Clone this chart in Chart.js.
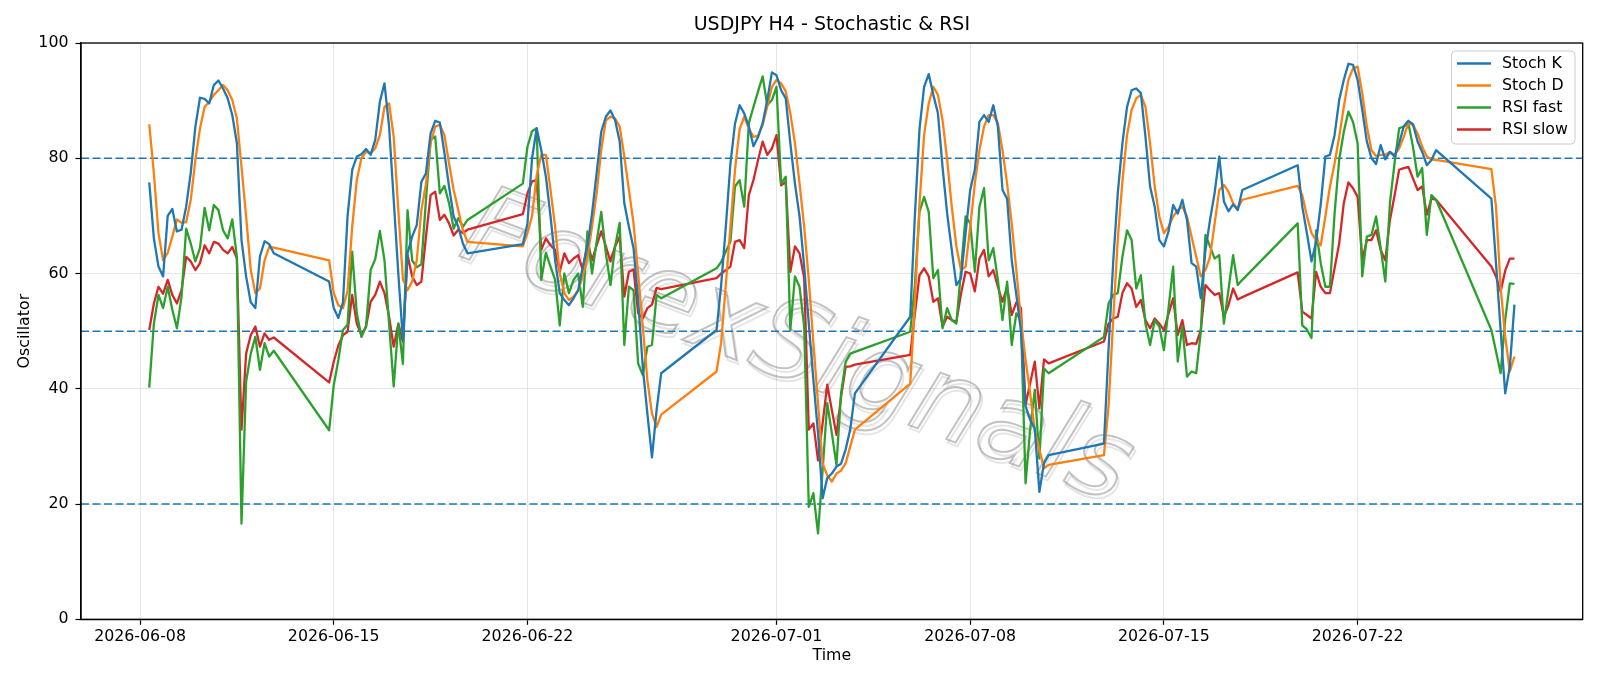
<!DOCTYPE html>
<html>
<head>
  <meta charset="utf-8">
  <title>USDJPY H4 - Stochastic & RSI</title>
  <script src="https://cdn.jsdelivr.net/npm/chart.js"></script>
  <style>
    body { margin: 0; padding: 0; background: #fff; }
    #wrap { width: 1600px; height: 686px; }
  </style>
</head>
<body>
  <div id="wrap"><canvas id="myChart"></canvas></div>

  <script>
    // 1. Data: H4 sessions (first bar + bar count), one row per trading week
    const sessionStart = ['2026-06-08 08:00', '2026-06-14 20:00', '2026-06-21 20:00', '2026-06-28 20:00',
                          '2026-07-05 20:00', '2026-07-12 20:00', '2026-07-19 20:00', '2026-07-26 20:00'];
    const sessionBars = [28, 31, 31, 31, 31, 31, 31, 6];

    const tickDates = ['2026-06-08', '2026-06-15', '2026-06-22', '2026-07-01', '2026-07-08', '2026-07-15', '2026-07-22'];
    const levels = [80, 50, 20];

    const stochK = [
      75.8, 66.1, 61.2, 59.5, 70.0, 71.2, 67.3, 67.6, 71.6, 77.5, 85.5, 90.5, 90.3, 89.5, 92.7, 93.5, 92.1, 90.4, 87.5, 82.6, 65.8, 59.5, 55.0, 54.0, 63.0, 65.6, 65.1, 63.5,
      58.6, 54.0, 52.3, 55.0, 70.0, 78.0, 80.3, 80.7, 81.6, 80.6, 83.2, 89.8, 93.0, 85.5, 72.8, 60.0, 48.5, 63.5, 66.4, 68.4, 75.9, 77.4, 84.3, 86.5, 86.2, 80.9, 75.1, 69.9, 68.1, 65.2, 63.5,
      65.1, 68.7, 80.0, 85.2, 81.4, 76.8, 69.9, 62.3, 56.6, 55.4, 54.5, 55.7, 57.1, 61.2, 64.6, 70.4, 77.4, 84.6, 87.2, 88.3, 86.6, 82.9, 72.2, 68.1, 64.4, 55.4, 43.8, 35.7, 28.1, 36.3, 42.7,
      50.2, 58.0, 68.0, 79.0, 86.0, 89.2, 87.8, 85.5, 82.1, 83.7, 86.1, 90.1, 94.9, 94.4, 91.8, 90.4, 82.6, 75.6, 69.9, 61.2, 51.3, 41.5, 32.3, 21.0, 24.5, 25.3, 26.5, 27.0, 29.5, 33.0, 39.2,
      52.5, 70.0, 85.0, 92.4, 94.6, 91.0, 87.8, 78.5, 70.4, 64.1, 58.0, 59.2, 67.0, 74.5, 78.0, 86.3, 87.5, 86.3, 89.2, 85.5, 74.5, 73.0, 62.3, 56.3, 50.0, 37.0, 34.6, 33.1, 22.1, 27.1, 28.5,
      30.5, 47.0, 62.0, 74.0, 82.6, 88.9, 91.8, 92.1, 91.3, 83.7, 75.1, 71.6, 65.8, 64.7, 67.3, 71.9, 70.4, 72.8, 69.3, 61.8, 61.2, 55.7, 64.0, 69.3, 74.0, 80.3, 72.5, 70.8, 72.0, 71.0, 74.5,
      78.8, 71.6, 67.0, 62.1, 65.5, 72.0, 80.3, 80.6, 84.0, 90.1, 93.6, 96.4, 96.2, 93.6, 88.4, 82.9, 80.0, 79.0, 82.3, 79.8, 81.1, 80.3, 82.6, 85.5, 86.5, 85.9, 82.9, 81.1, 78.8, 79.7, 81.4,
      73.0, 61.8, 50.2, 39.2, 43.8, 54.6
    ];
    const stochD = [
      85.9, 77.4, 67.0, 62.3, 63.6, 66.4, 69.4, 68.8, 68.9, 72.8, 79.7, 85.2, 88.9, 89.8, 91.0, 91.8, 92.7, 91.8, 90.1, 86.9, 78.5, 69.9, 60.6, 56.6, 57.4, 62.3, 64.6, 64.5,
      62.3, 56.6, 54.5, 54.0, 57.0, 68.1, 76.2, 80.0, 81.1, 80.9, 81.7, 84.0, 88.9, 89.5, 83.7, 71.0, 59.0, 57.1, 58.6, 62.3, 71.0, 75.6, 82.6, 85.5, 85.8, 84.0, 79.1, 74.5, 71.0, 67.5, 65.5,
      64.7, 67.0, 70.0, 77.0, 80.6, 80.6, 74.5, 68.1, 60.0, 56.6, 55.4, 56.0, 57.1, 59.5, 62.9, 68.1, 73.9, 81.4, 86.6, 87.2, 86.9, 85.5, 80.3, 74.5, 68.7, 60.0, 50.8, 41.5, 35.7, 33.4, 35.5,
      43.0, 48.0, 58.0, 68.0, 78.0, 85.0, 87.2, 85.2, 83.7, 83.9, 85.8, 89.0, 92.4, 93.6, 93.0, 91.6, 87.8, 82.6, 75.6, 68.1, 58.9, 47.9, 37.5, 27.0, 25.0, 23.9, 25.3, 25.8, 27.1, 30.0, 32.9,
      40.9, 55.0, 72.0, 84.0, 89.5, 92.4, 91.0, 86.6, 79.7, 71.6, 64.7, 60.6, 61.2, 68.1, 75.6, 81.4, 85.5, 87.5, 87.5, 86.1, 81.4, 75.6, 68.7, 60.6, 51.9, 45.0, 39.2, 32.8, 29.4, 26.2, 26.8,
      28.5, 37.0, 52.0, 66.0, 76.0, 84.0, 88.4, 90.4, 91.0, 88.9, 82.6, 75.1, 69.9, 67.0, 68.1, 69.9, 71.0, 71.6, 69.9, 66.4, 62.9, 59.5, 60.6, 62.9, 68.7, 74.5, 75.4, 74.2, 72.2, 71.3, 72.8,
      75.2, 73.6, 70.0, 67.0, 65.8, 64.9, 69.9, 75.1, 79.1, 83.7, 88.9, 93.6, 95.6, 95.9, 91.3, 85.5, 81.4, 80.4, 80.6, 80.6, 81.1, 80.6, 81.7, 83.7, 86.1, 85.8, 84.3, 82.0, 80.3, 79.8, 79.7,
      78.1, 71.6, 57.7, 49.0, 43.0, 45.6
    ];
    const rsiFast = [
      40.2, 51.3, 56.3, 54.0, 57.7, 53.7, 50.5, 56.0, 67.8, 65.2, 62.1, 64.4, 71.4, 67.5, 71.9, 71.0, 67.5, 66.1, 69.4, 62.9, 16.6, 41.2, 46.1, 49.0, 43.3, 47.9, 45.6, 46.6,
      32.8, 40.6, 45.0, 50.2, 51.1, 63.8, 53.1, 49.0, 50.8, 60.6, 62.5, 67.4, 62.3, 51.3, 40.4, 51.3, 44.3, 71.0, 62.3, 61.1, 61.6, 72.8, 83.2, 83.8, 73.9, 75.2, 72.2, 67.8, 69.6, 68.1, 69.3,
      75.6, 82.0, 84.7, 85.2, 58.9, 63.6, 61.2, 58.9, 51.0, 60.0, 56.6, 58.9, 60.0, 54.2, 67.3, 60.0, 65.5, 70.7, 63.5, 58.0, 64.7, 68.8, 47.6, 57.7, 57.1, 44.4, 42.4, 47.3, 47.6, 56.3, 55.7,
      60.9, 62.0, 63.8, 65.5, 75.1, 76.2, 71.6, 86.1, 88.9, 91.6, 94.2, 89.2, 90.1, 92.4, 75.6, 76.8, 50.2, 59.5, 57.7, 50.8, 19.5, 21.9, 14.9, 25.9, 37.5, 32.3, 26.8, 39.2, 44.7, 46.1, 46.4,
      49.9, 58.0, 70.7, 73.3, 70.7, 59.2, 60.6, 50.5, 54.0, 51.9, 51.3, 60.5, 69.9, 68.7, 60.3, 71.6, 74.8, 62.3, 64.4, 58.9, 51.9, 58.6, 47.6, 53.1, 51.9, 23.6, 33.0, 39.8, 27.9, 43.5, 42.7,
      49.0, 54.8, 56.3, 56.6, 62.9, 67.5, 65.8, 57.4, 59.7, 51.3, 47.6, 51.9, 50.8, 46.7, 54.0, 61.2, 44.7, 50.8, 42.1, 43.0, 42.7, 49.9, 66.7, 64.7, 62.6, 63.2, 51.3, 57.2, 63.2, 58.0, 58.9,
      68.7, 51.0, 50.3, 48.8, 67.5, 61.8, 57.7, 57.7, 70.4, 79.7, 84.6, 88.1, 86.3, 82.6, 59.5, 66.4, 66.7, 69.9, 64.4, 58.6, 72.2, 79.1, 85.2, 85.5, 86.1, 82.0, 76.8, 78.3, 66.7, 73.6, 72.8,
      50.2, 46.5, 42.7, 52.0, 58.3, 58.2
    ];
    const rsiSlow = [
      50.2, 54.8, 57.7, 56.5, 58.9, 56.3, 54.8, 57.1, 62.9, 62.1, 60.6, 61.8, 64.9, 63.5, 65.5, 65.2, 64.1, 63.5, 64.6, 62.6, 32.9, 46.1, 49.3, 50.8, 47.3, 49.6, 48.5, 48.9,
      41.1, 44.7, 47.5, 49.3, 49.9, 56.3, 51.3, 49.3, 50.8, 55.1, 56.3, 58.6, 56.6, 52.5, 47.3, 51.3, 48.2, 63.2, 59.5, 58.0, 58.6, 66.4, 73.6, 74.2, 69.3, 70.2, 68.7, 66.6, 67.6, 67.0, 67.6,
      70.3, 73.9, 76.0, 76.2, 64.1, 66.1, 64.9, 64.1, 60.3, 63.5, 61.8, 62.6, 63.2, 60.6, 65.5, 62.3, 64.9, 67.3, 64.7, 62.1, 64.7, 66.4, 56.0, 60.3, 60.7, 53.1, 52.2, 54.0, 54.6, 57.5, 57.3,
      59.2, 60.0, 60.6, 61.2, 65.5, 65.8, 64.4, 73.6, 76.2, 79.7, 82.9, 80.6, 81.7, 84.0, 75.3, 75.9, 60.3, 64.7, 63.5, 59.2, 32.9, 34.0, 27.6, 34.0, 40.7, 36.3, 32.0, 38.6, 43.8, 43.9, 44.2,
      45.9, 53.0, 59.7, 60.9, 59.5, 55.1, 55.7, 50.8, 52.5, 51.9, 51.6, 56.5, 60.3, 60.0, 56.9, 62.6, 64.1, 59.5, 60.6, 57.7, 55.1, 57.7, 52.8, 55.0, 54.0, 37.2, 41.0, 44.7, 36.6, 45.1, 44.4,
      48.2, 51.3, 52.2, 52.5, 56.6, 58.3, 57.4, 54.2, 55.4, 51.9, 50.5, 52.2, 51.3, 50.2, 53.0, 55.7, 49.3, 51.9, 47.6, 47.9, 47.8, 50.2, 58.0, 57.1, 56.3, 56.6, 52.5, 54.5, 57.4, 55.5, 55.9,
      60.2, 53.4, 52.8, 52.2, 60.3, 57.7, 56.6, 56.6, 60.9, 65.2, 72.2, 75.8, 74.8, 73.3, 62.3, 65.8, 65.8, 67.5, 64.1, 62.3, 69.3, 73.5, 78.0, 78.3, 78.5, 76.5, 74.5, 75.1, 70.2, 73.0, 72.8,
      61.2, 59.5, 56.9, 60.5, 62.6, 62.6
    ];

    // 2. Time axis in hours since 2026-06-08 00:00
    const origin = Date.UTC(2026, 5, 8);
    function toHours(s) {
      const [d, t] = s.split(' ');
      const [y, m, dd] = d.split('-').map(Number);
      const hh = t ? Number(t.split(':')[0]) : 0;
      return (Date.UTC(y, m - 1, dd, hh) - origin) / 3600000;
    }
    const times = [];
    sessionStart.forEach((s, i) => {
      const h0 = toHours(s);
      for (let b = 0; b < sessionBars[i]; b++) times.push(h0 + 4 * b);
    });
    const tickHours = tickDates.map(toHours);
    const xMin = times[0] - 0.05 * (times[times.length - 1] - times[0]);
    const xMax = times[times.length - 1] + 0.05 * (times[times.length - 1] - times[0]);

    const series = [
      { label: 'Stoch K', data: stochK, color: '#1f77b4' },
      { label: 'Stoch D', data: stochD, color: '#ff7f0e' },
      { label: 'RSI fast', data: rsiFast, color: '#2ca02c' },
      { label: 'RSI slow', data: rsiSlow, color: '#d62728' }
    ];

    // 3. Extra drawing: watermark, level lines, frame, title, legend
    const extras = {
      id: 'extras',
      beforeDatasetsDraw(chart) {
        const { ctx, chartArea: a, scales: { y } } = chart;
        ctx.save();
        ctx.translate(796, 352);
        ctx.rotate(20.6 * Math.PI / 180);
        ctx.font = 'italic 110px "DejaVu Sans"';
        ctx.textAlign = 'center';
        ctx.textBaseline = 'middle';
        ctx.lineWidth = 2;
        ctx.strokeStyle = 'rgba(0,0,0,0.10)';
        ctx.strokeText('ForexSignals', 3, 3);
        ctx.strokeStyle = 'rgba(120,120,120,0.45)';
        ctx.strokeText('ForexSignals', 0, 0);
        ctx.restore();

        ctx.save();
        ctx.strokeStyle = '#1f77b4';
        ctx.lineWidth = 1.5;
        ctx.setLineDash([8, 3.5]);
        levels.forEach(v => {
          const py = y.getPixelForValue(v);
          ctx.beginPath();
          ctx.moveTo(a.left, py);
          ctx.lineTo(a.right, py);
          ctx.stroke();
        });
        ctx.restore();
      },
      afterDatasetsDraw(chart) {
        const { ctx, chartArea: a } = chart;
        ctx.save();
        ctx.strokeStyle = '#000';
        ctx.lineWidth = 1.3;
        ctx.strokeRect(a.left, a.top, a.right - a.left, a.bottom - a.top);
        ctx.restore();
      },
      afterDraw(chart) {
        const { ctx, chartArea: a } = chart;
        ctx.save();
        ctx.fillStyle = '#000';
        ctx.font = '19px "DejaVu Sans"';
        ctx.textAlign = 'center';
        ctx.textBaseline = 'middle';
        ctx.fillText('USDJPY H4 - Stochastic & RSI', (a.left + a.right) / 2, 25.5);

        // legend box
        const bx = 1451.5, by = 51, bw = 123.5, bh = 93;
        ctx.beginPath();
        ctx.roundRect(bx, by, bw, bh, 4);
        ctx.fillStyle = 'rgba(255,255,255,0.8)';
        ctx.fill();
        ctx.strokeStyle = '#cccccc';
        ctx.lineWidth = 1;
        ctx.stroke();
        ctx.font = '15.8px "DejaVu Sans"';
        ctx.textAlign = 'left';
        series.forEach((s, i) => {
          const ry = 63.5 + i * 22;
          ctx.strokeStyle = s.color;
          ctx.lineWidth = 2.3;
          ctx.beginPath();
          ctx.moveTo(1457, ry);
          ctx.lineTo(1491, ry);
          ctx.stroke();
          ctx.fillStyle = '#000';
          ctx.fillText(s.label, 1502, ry + 0.5);
        });
        ctx.restore();
      }
    };

    Chart.defaults.font.family = '"DejaVu Sans"';
    Chart.defaults.color = '#000';

    const ctx = document.getElementById('myChart').getContext('2d');
    new Chart(ctx, {
      type: 'line',
      data: {
        datasets: series.map(s => ({
          label: s.label,
          data: s.data.map((v, i) => ({ x: times[i], y: v })),
          borderColor: s.color,
          backgroundColor: s.color,
          borderWidth: 2.3,
          borderJoinStyle: 'round',
          pointRadius: 0,
          tension: 0,
          fill: false
        }))
      },
      options: {
        responsive: true,
        maintainAspectRatio: false,
        animation: false,
        events: [],
        layout: { padding: { top: 43, right: 17.3, left: 0, bottom: 0 } },
        plugins: {
          legend: { display: false },
          title: { display: false },
          tooltip: { enabled: false }
        },
        scales: {
          x: {
            type: 'linear',
            min: xMin,
            max: xMax,
            afterBuildTicks: scale => { scale.ticks = tickHours.map(v => ({ value: v })); },
            afterFit: scale => { scale.height = 66.7; },
            ticks: {
              autoSkip: false,
              maxRotation: 0,
              padding: 3,
              font: { size: 15.8 },
              callback: (v, i) => tickDates[i]
            },
            grid: { color: '#e6e6e6', lineWidth: 1, tickColor: '#000', tickLength: 5.5, tickWidth: 1.2 },
            border: { color: '#000', width: 1.3 },
            title: { display: true, text: 'Time', font: { size: 15.8 }, padding: { top: 0, bottom: 20.5 } }
          },
          y: {
            min: 0,
            max: 100,
            afterFit: scale => { scale.width = 81; },
            ticks: { stepSize: 20, padding: 7, font: { size: 15.8 } },
            grid: { color: '#e6e6e6', lineWidth: 1, tickColor: '#000', tickLength: 5.5, tickWidth: 1.2 },
            border: { color: '#000', width: 1.3 },
            title: { display: true, text: 'Oscillator', font: { size: 15.8 }, padding: { top: 15.5, bottom: 0 } }
          }
        }
      },
      plugins: [extras]
    });
  </script>
</body>
</html>
